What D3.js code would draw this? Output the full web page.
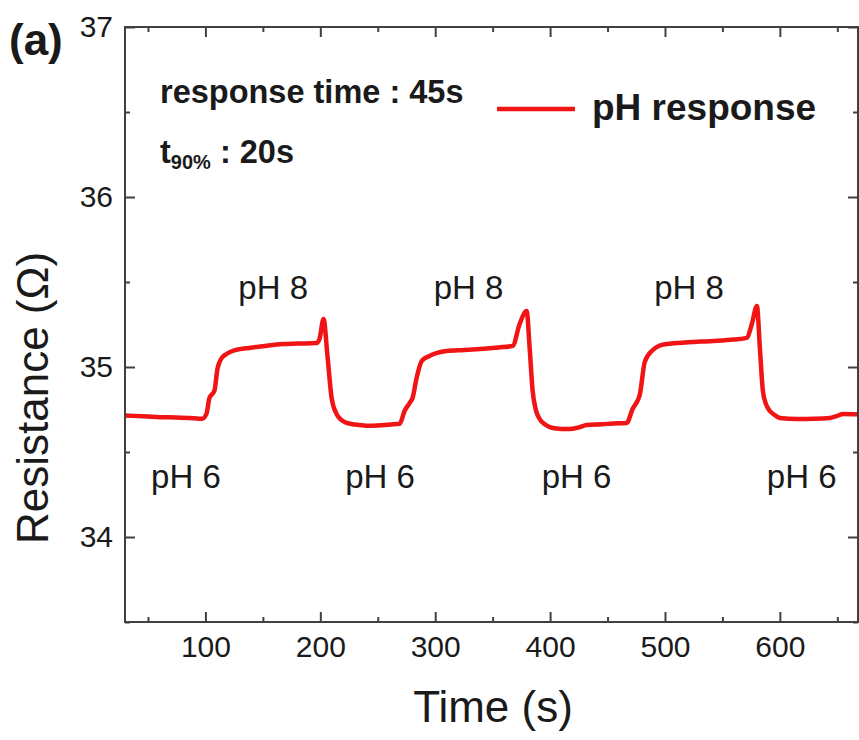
<!DOCTYPE html>
<html>
<head>
<meta charset="utf-8">
<script src="https://cdn.jsdelivr.net/npm/d3@7"></script>
<style>
  html, body { margin: 0; padding: 0; background: #fff; }
  svg text { font-family: "Liberation Sans", Arial, sans-serif; fill: #1a1a1a; }
</style>
</head>
<body>
<svg id="chart" width="859" height="740"></svg>
<script>
// ---- data ----
const times = [30, 45, 60, 75, 90, 97, 100.9, 103.5, 107.8, 110.5, 113.9, 118, 123.5, 130, 138, 150, 167, 180, 196.7, 199.3, 202.8, 206.3, 209.8, 214.1, 218, 222.8, 230, 240, 250, 258, 266, 269, 273.3, 277.7, 280.3, 283.8, 288.2, 295, 310, 325, 339, 355, 367.4, 373.5, 379.6, 382.2, 384.8, 387.5, 390.9, 396, 402.3, 410, 417, 425, 432, 445, 455, 466.7, 471.9, 476, 478, 482.4, 489.4, 495, 501.6, 520, 541.6, 560, 571.3, 575.6, 580, 582.6, 585.2, 588, 591.3, 596, 600, 614.8, 630, 643.6, 650, 655, 668];
const resistance = [34.715, 34.71, 34.705, 34.703, 34.698, 34.695, 34.724, 34.818, 34.86, 34.99, 35.05, 35.075, 35.094, 35.105, 35.112, 35.122, 35.135, 35.138, 35.141, 35.165, 35.282, 35.06, 34.82, 34.724, 34.69, 34.671, 34.662, 34.655, 34.656, 34.66, 34.665, 34.666, 34.741, 34.788, 34.818, 34.935, 35.035, 35.065, 35.094, 35.1, 35.106, 35.115, 35.124, 35.253, 35.329, 35.112, 34.86, 34.75, 34.694, 34.66, 34.641, 34.636, 34.635, 34.645, 34.659, 34.663, 34.668, 34.671, 34.755, 34.8, 34.835, 35.03, 35.1, 35.125, 35.135, 35.145, 35.153, 35.162, 35.171, 35.253, 35.359, 35.112, 34.86, 34.78, 34.741, 34.715, 34.7, 34.694, 34.695, 34.7, 34.712, 34.724, 34.722];

const xMajorTicks = [100, 200, 300, 400, 500, 600];
const xMinorTicks = [50, 150, 250, 350, 450, 550, 650];
const yMajorTicks = [34, 35, 36, 37];
const yMinorTicks = [33.5, 34.5, 35.5, 36.5];

const ph8Labels = ["pH 8", "pH 8", "pH 8"];
const ph8X = [159, 329, 521];
const ph8Y = 35.4;
const ph6Labels = ["pH 6", "pH 6", "pH 6", "pH 6"];
const ph6X = [83, 252, 423, 619];
const ph6Y = 34.29;

const seriesName = "pH response";
const xTitle = "Time (s)";
const yTitle = "Resistance (\u03A9)";
const panelLabel = "(a)";

// ---- layout ----
const L = 125, R = 858, T = 27, B = 622;
const svg = d3.select("#chart");

const x = d3.scaleLinear().domain([30, 668]).range([L, R]);
const y = d3.scaleLinear().domain([33.5, 37]).range([B, T]);

const axisColor = "#404040";
const lineColor = "#f01414";

// clip
svg.append("defs").append("clipPath").attr("id", "clip")
  .append("rect").attr("x", L).attr("y", T).attr("width", R - L).attr("height", B - T);

// curve
const line = d3.line().x((d, i) => x(times[i])).y((d, i) => y(resistance[i])).curve(d3.curveMonotoneX);
svg.append("path").datum(resistance)
  .attr("clip-path", "url(#clip)")
  .attr("d", line)
  .attr("fill", "none")
  .attr("stroke", lineColor)
  .attr("stroke-width", 4.5)
  .attr("stroke-linejoin", "round");

function styleAxis(g) {
  g.select(".domain").remove();
  g.selectAll("line").attr("stroke", axisColor).attr("stroke-width", 2);
  g.selectAll("text").style("font-family", "Liberation Sans, Arial, sans-serif").attr("fill", "#1a1a1a");
}
// bottom
const gxB = svg.append("g").attr("transform", `translate(0,${B})`)
  .call(d3.axisBottom(x).tickValues(xMajorTicks).tickSize(-10).tickFormat(d3.format("d")));
gxB.call(styleAxis);
gxB.selectAll("text").attr("font-size", 30).attr("dy", "0.71em").attr("y", 14);
svg.append("g").attr("transform", `translate(0,${B})`)
  .call(d3.axisBottom(x).tickValues(xMinorTicks).tickSize(-5).tickFormat(""))
  .call(styleAxis);
// top
svg.append("g").attr("transform", `translate(0,${T})`)
  .call(d3.axisTop(x).tickValues(xMajorTicks).tickSize(-10).tickFormat(""))
  .call(styleAxis);
svg.append("g").attr("transform", `translate(0,${T})`)
  .call(d3.axisTop(x).tickValues(xMinorTicks).tickSize(-5).tickFormat(""))
  .call(styleAxis);
// left
const gyL = svg.append("g").attr("transform", `translate(${L},0)`)
  .call(d3.axisLeft(y).tickValues(yMajorTicks).tickSize(-10).tickPadding(12).tickFormat(d3.format("d")));
gyL.call(styleAxis);
gyL.selectAll("text").attr("font-size", 30).attr("dy", "0.3em");
svg.append("g").attr("transform", `translate(${L},0)`)
  .call(d3.axisLeft(y).tickValues(yMinorTicks).tickSize(-5).tickFormat(""))
  .call(styleAxis);
// right
svg.append("g").attr("transform", `translate(${R},0)`)
  .call(d3.axisRight(y).tickValues(yMajorTicks).tickSize(-10).tickFormat(""))
  .call(styleAxis);
svg.append("g").attr("transform", `translate(${R},0)`)
  .call(d3.axisRight(y).tickValues(yMinorTicks).tickSize(-5).tickFormat(""))
  .call(styleAxis);

// frame
svg.append("rect").attr("x", L).attr("y", T).attr("width", R - L).attr("height", B - T)
  .attr("fill", "none").attr("stroke", axisColor).attr("stroke-width", 2);

// axis titles
svg.append("text").attr("x", 493).attr("y", 722).attr("text-anchor", "middle")
  .attr("font-size", 44).text(xTitle);
svg.append("text").attr("transform", `translate(48,398) rotate(-90)`).attr("text-anchor", "middle")
  .attr("font-size", 44).text(yTitle);

// panel label
svg.append("text").attr("x", 9).attr("y", 55).attr("font-size", 44).attr("font-weight", "bold").text(panelLabel);

// pH labels
svg.selectAll("text.ph8").data(ph8Labels).enter().append("text").attr("class", "ph8")
  .attr("x", (d, i) => x(ph8X[i])).attr("y", y(ph8Y)).attr("text-anchor", "middle")
  .attr("font-size", 33).text(d => d);
svg.selectAll("text.ph6").data(ph6Labels).enter().append("text").attr("class", "ph6")
  .attr("x", (d, i) => x(ph6X[i])).attr("y", y(ph6Y)).attr("text-anchor", "middle")
  .attr("font-size", 33).text(d => d);

// annotations
svg.append("text").attr("x", 160).attr("y", 103).attr("font-size", 32.5).attr("font-weight", "bold")
  .text("response time : 45s");
const t90 = svg.append("text").attr("x", 160).attr("y", 163).attr("font-size", 32.5).attr("font-weight", "bold");
t90.append("tspan").text("t");
t90.append("tspan").attr("font-size", 20).attr("dy", 6).text("90%");
t90.append("tspan").attr("dy", -6).text(" : 20s");

// legend
svg.append("line").attr("x1", 497).attr("x2", 575).attr("y1", 109).attr("y2", 109)
  .attr("stroke", lineColor).attr("stroke-width", 4.5);
svg.append("text").attr("x", 592).attr("y", 120).attr("font-size", 37).attr("font-weight", "bold")
  .text(seriesName);
</script>
</body>
</html>
